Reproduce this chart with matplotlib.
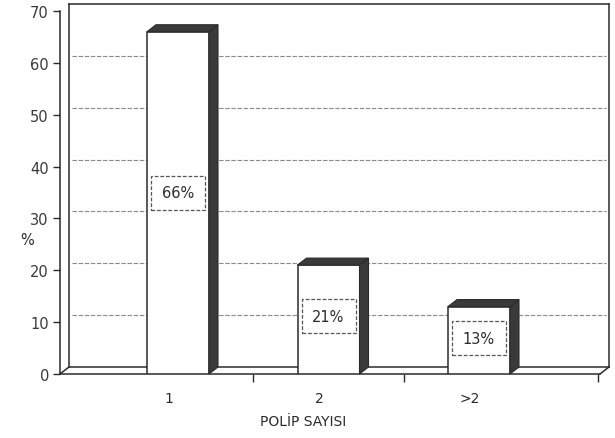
import matplotlib
matplotlib.use("Agg")
import matplotlib.pyplot as plt
from matplotlib.patches import Rectangle, Polygon

# polyp count distribution
categories = ['1', '2', '>2']
percents = [66, 21, 13]
yticks = [0, 10, 20, 30, 40, 50, 60, 70]

ink = '#2b2b2b'
shade = '#3a3a3a'
grid_col = '#8a8a8a'

fig = plt.figure(figsize=(6.15, 4.39), dpi=100, facecolor='white')
ax = fig.add_axes([60/615, 1-375/439, 540/615, 363/439])

# pixel -> data unit helpers
xs = 1/150.5
ys = 70/363.0
DX = 9*xs
DY = 7*ys
x0 = -118*xs
x1 = 422*xs
ax.set_xlim(x0, x1)
ax.set_ylim(0, 70)

# back wall, floor and box edges
lw = 1.1
ax.plot([x0+DX, x1+DX], [DY, DY], color=ink, lw=lw, clip_on=False, zorder=1)
ax.plot([x0+DX, x0+DX], [DY, 70+DY], color=ink, lw=lw, clip_on=False, zorder=1)
ax.plot([x0+DX, x1+DX], [70+DY, 70+DY], color=ink, lw=lw, clip_on=False, zorder=1)
ax.plot([x1+DX, x1+DX], [DY, 70+DY], color=ink, lw=lw, clip_on=False, zorder=1)
ax.plot([x0, x1], [0, 0], color=ink, lw=lw, clip_on=False, zorder=2)
ax.plot([x0, x0+DX], [0, DY], color=ink, lw=lw, clip_on=False, zorder=2)
ax.plot([x1, x1+DX], [0, DY], color=ink, lw=lw, clip_on=False, zorder=2)

for t in yticks[1:-1]:
    ax.plot([x0+DX+3*xs, x1+DX-3*xs], [t+DY, t+DY], color=grid_col, lw=0.8,
            ls=(0, (4, 1.5)), clip_on=False, zorder=1)

# bars drawn as boxes with a dark side and top
w = 62*xs
for i, v in enumerate(percents):
    l = i - w/2
    r = i + w/2
    ax.add_patch(Rectangle((l, 0), w, v, fc='white', ec=ink, lw=1.1, zorder=3))
    ax.add_patch(Polygon([(r, 0), (r+DX, DY), (r+DX, v+DY), (r, v)],
                         closed=True, fc=shade, ec=ink, lw=0.8, zorder=3, clip_on=False))
    ax.add_patch(Polygon([(l, v), (l+DX, v+DY), (r+DX, v+DY), (r, v)],
                         closed=True, fc=shade, ec=ink, lw=0.8, zorder=3, clip_on=False))
    # value label in a dashed frame
    bw = 54*xs
    bh = 34*ys
    cy = v*0.53
    ax.add_patch(Rectangle((i-bw/2, cy-bh/2), bw, bh, fc='white', ec='#555555',
                           lw=0.9, ls=(0, (3, 1.5)), zorder=4))
    ax.text(i, cy, '%d%%' % v, ha='center', va='center', fontsize=10.5,
            color=ink, zorder=5)

for s in ['top', 'right', 'bottom']:
    ax.spines[s].set_visible(False)
ax.spines['left'].set_color(ink)
ax.spines['left'].set_linewidth(1.1)

ax.set_yticks(yticks)
ax.tick_params(axis='y', direction='out', length=5, width=1, color=ink,
               labelsize=10.5, labelcolor='#3a3a3a', pad=3)
ax.set_xticks([i - 9*xs for i in range(len(categories))])
ax.set_xticklabels(categories)
ax.set_xticks([0.5, 1.5, x1 - 2*xs], minor=True)
ax.tick_params(axis='x', which='major', length=0, pad=12, labelsize=10,
               labelcolor=ink)
ax.tick_params(axis='x', which='minor', direction='out', length=6, width=1,
               color=ink)

ax.set_ylabel('%', rotation=0, fontsize=10.5, color=ink, va='center')
ax.yaxis.set_label_coords(-0.06, 0.37)
fig.text(303/615, 1-422/439, 'POLİP SAYISI', ha='center', va='center',
         fontsize=10, color=ink)

fig.savefig('out.png', dpi=100, facecolor='white')
